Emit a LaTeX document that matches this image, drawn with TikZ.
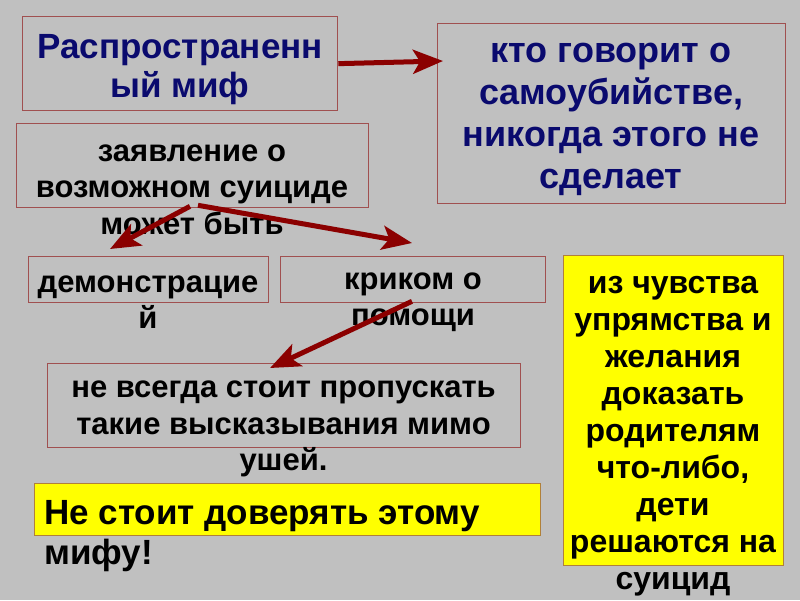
\documentclass[tikz,border=0pt]{standalone}
\usepackage{fontspec}
\setmainfont{Liberation Sans}
\usetikzlibrary{arrows.meta,calc}
\definecolor{bg}{RGB}{192,192,192}
\definecolor{boxline}{RGB}{160,80,80}
\definecolor{navy}{RGB}{10,10,110}
\definecolor{arrowred}{RGB}{139,0,0}
\definecolor{ybox}{RGB}{255,255,0}
\definecolor{yline}{RGB}{176,128,58}
\tikzset{
  frame/.style={draw=boxline, line width=1.3pt, inner sep=0pt, anchor=north west},
  yframe/.style={draw=yline, fill=ybox, line width=1.3pt, inner sep=0pt, anchor=north west},
  txt/.style={inner sep=0pt, align=center, font=\bfseries\fontsize{31}{36.5}\selectfont},
  navytxt/.style={txt, text=navy},
  link/.style={draw=arrowred, line width=5pt, -{Stealth[length=30pt,width=24pt,inset=7pt]}, shorten <=0pt}
}
\begin{document}
\begin{tikzpicture}[x=1pt,y=-1pt]
\fill[bg] (0,0) rectangle (800,600);
\useasboundingbox (0,0) rectangle (800,600);
% boxes
\node[frame, minimum width=315pt, minimum height=94pt] (b1) at (22,16) {};
\node[frame, minimum width=348pt, minimum height=180pt] (b2) at (437,23) {};
\node[frame, minimum width=352pt, minimum height=84pt] (b3) at (16,123) {};
\node[frame, minimum width=240pt, minimum height=46pt] (b4) at (28,256) {};
\node[frame, minimum width=265pt, minimum height=46pt] (b5) at (280,256) {};
\node[frame, minimum width=473pt, minimum height=84pt] (b6) at (47,363) {};
\node[yframe, minimum width=506pt, minimum height=52pt] (y1) at (34,483) {};
\node[yframe, minimum width=220pt, minimum height=310pt] (y2) at (563,255) {};
% texts
\node[navytxt, font=\bfseries\fontsize{35}{39}\selectfont] (t1) at (180,69.5) {Распространенн\\ый миф};
\node[navytxt, font=\bfseries\fontsize{36}{42}\selectfont] (t2) at (611,119.5) {кто говорит о\\самоубийстве,\\никогда этого не\\сделает};
\node[txt] (t3) at (192,189.5) {заявление о\\возможном суициде\\может быть};
\node[txt] (t4) at (148,302) {демонстрацие\\й};
\node[txt] (t5) at (413,302) {криком о\\помощи};
\node[txt] (t6) at (283.5,429) {не всегда стоит пропускать\\такие высказывания мимо\\ушей.};
\node[txt, align=left, anchor=west, font=\bfseries\fontsize{35}{40}\selectfont] (t7) at (44,536) {Не стоит доверять этому\\мифу!};
\node[txt, font=\bfseries\fontsize{32}{37}\selectfont] (t8) at (673,436.5) {из чувства\\упрямства и\\желания\\доказать\\родителям\\что-либо,\\дети\\решаются на\\суицид};
% connectors
\coordinate (e1) at ($(b2.north west)+(6,38)$);
\coordinate (s2) at ($(b3.south west)+(174,-2)$);
\coordinate (e2) at ($(b4.north west)+(82,-7)$);
\coordinate (s3) at ($(b3.south west)+(182,-3)$);
\coordinate (e3) at ($(b5.north west)+(132,-13)$);
\coordinate (s4) at ($(b5.south west)+(132,-2)$);
\coordinate (e4) at ($(b6.north west)+(223,5)$);
\draw[link] ($(b1.east)$) -- (e1);
\draw[link] (s2) -- (e2);
\draw[link] (s3) -- (e3);
\draw[link] (s4) -- (e4);
\end{tikzpicture}
\end{document}
